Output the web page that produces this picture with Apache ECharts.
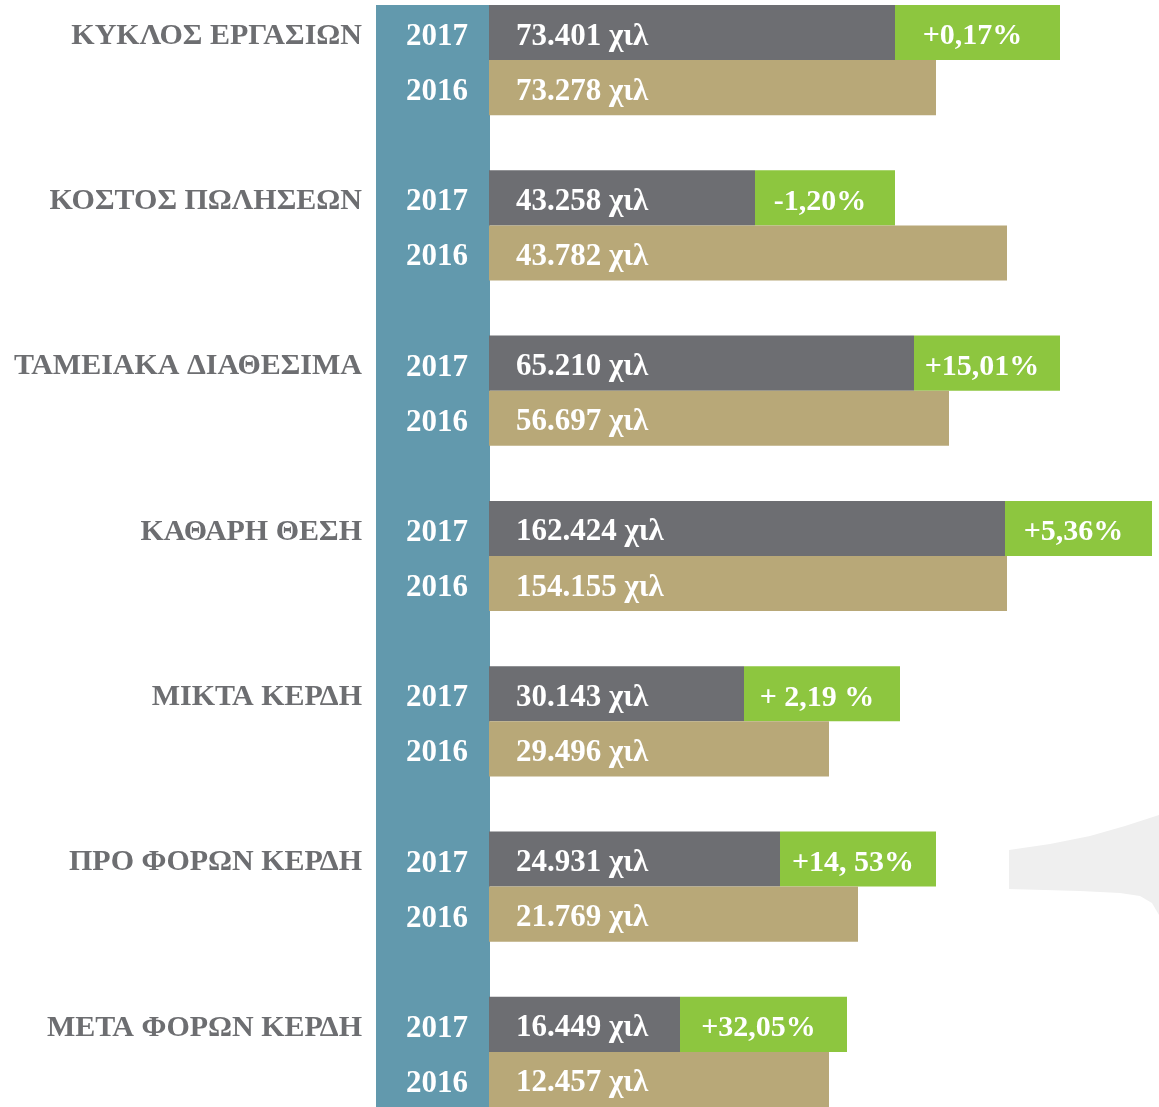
<!DOCTYPE html>
<html>
<head>
<meta charset="utf-8">
<script src="https://cdn.jsdelivr.net/npm/echarts@6/dist/echarts.min.js"></script>
<style>
  html, body { margin: 0; padding: 0; background: #fff; }
  #main { width: 1159px; height: 1107px; }
</style>
</head>
<body>
<div id="main"></div>
<script>
// categories and printed values
const categories = ['ΚΥΚΛΟΣ ΕΡΓΑΣΙΩΝ', 'ΚΟΣΤΟΣ ΠΩΛΗΣΕΩΝ', 'ΤΑΜΕΙΑΚΑ ΔΙΑΘΕΣΙΜΑ', 'ΚΑΘΑΡΗ ΘΕΣΗ', 'ΜΙΚΤΑ ΚΕΡΔΗ', 'ΠΡΟ ΦΟΡΩΝ ΚΕΡΔΗ', 'ΜΕΤΑ ΦΟΡΩΝ ΚΕΡΔΗ']
const years = ['2017', '2016']
const values2017 = ['73.401', '43.258', '65.210', '162.424', '30.143', '24.931', '16.449']
const values2016 = ['73.278', '43.782', '56.697', '154.155', '29.496', '21.769', '12.457']
const changes = ['+0,17%', '-1,20%', '+15,01%', '+5,36%', '+ 2,19 %', '+14, 53%', '+32,05%']
// bar lengths as drawn in the infographic (not proportional to the values)
const len2017 = [406, 266, 425, 516, 255, 291, 191]
const lenChange = [165, 140, 146, 147, 156, 156, 167]
const len2016 = [447, 518, 460, 518, 340, 369, 340]

// each group = 2017 row, 2016 row, empty row
var yearRows = []
var catRows = []
var d2017 = [], dChange = [], d2016 = []
categories.forEach(function (c, i) {
  yearRows.push(years[0], years[1])
  catRows.push(c, '')
  d2017.push(len2017[i], '-')
  dChange.push(lenChange[i], '-')
  d2016.push('-', len2016[i])
  if (i < categories.length - 1) {
    yearRows.push('')
    catRows.push('')
    d2017.push('-')
    dChange.push('-')
    d2016.push('-')
  }
})

// light grey logo fragment at the right edge
var logo = [[1009, 850], [1050, 844], [1090, 836], [1125, 826], [1159, 815], [1159, 915],
  [1152, 903], [1140, 896], [1120, 893], [1080, 891], [1009, 889]]

const serif = 'Liberation Serif'
var chartDom = document.getElementById('main')
var myChart = echarts.init(chartDom)
var option = {
  animation: false,
  backgroundColor: '#ffffff',
  grid: [
    { left: 489, right: 0, top: 5, bottom: 0 },
    { left: 376, width: 114, top: 5, bottom: 0, show: true, backgroundColor: '#6299ad', borderWidth: 0 },
  ],
  graphic: [
    {
      type: 'polygon',
      z: -1,
      shape: { points: logo },
      style: { fill: '#efefef' },
    },
  ],
  xAxis: [
    { type: 'value', gridIndex: 0, min: 0, max: 670, show: false },
    { type: 'value', gridIndex: 1, min: 0, max: 1, show: false },
  ],
  yAxis: [
    {
      type: 'category',
      gridIndex: 0,
      inverse: true,
      data: yearRows,
      axisLine: { show: false },
      axisTick: { show: false },
      splitLine: { show: false },
      axisLabel: {
        interval: 0,
        margin: 21,
        formatter: function (v) {
          return v ? '{y|' + v + '}' : ''
        },
        rich: {
          y: {
            padding: [9, 0, 0, 0],
            color: '#ffffff',
            fontFamily: serif,
            fontWeight: 'bold',
            fontSize: 31,
          },
        },
      },
      z: 5,
    },
    {
      type: 'category',
      gridIndex: 0,
      inverse: true,
      position: 'left',
      offset: 127,
      data: catRows,
      axisLine: { show: false },
      axisTick: { show: false },
      splitLine: { show: false },
      axisLabel: {
        interval: 0,
        margin: 0,
        formatter: function (v) {
          return v ? '{c|' + v + '}' : ''
        },
        rich: {
          c: {
            padding: [7, 0, 0, 0],
            color: '#6d6e71',
            fontFamily: serif,
            fontWeight: 'bold',
            fontSize: 30,
          },
        },
      },
    },
    { type: 'category', gridIndex: 1, data: ['a'], show: false },
  ],
  series: [
    {
      name: '2017',
      type: 'bar',
      stack: 'row',
      barCategoryGap: '0%',
      data: d2017,
      itemStyle: { color: '#6d6e72' },
      label: {
        show: true,
        position: 'insideLeft',
        distance: 27,
        offset: [0, 4],
        color: '#ffffff',
        fontFamily: serif,
        fontWeight: 'bold',
        fontSize: 31,
        formatter: function (p) {
          return values2017[Math.floor(p.dataIndex / 3)] + ' χιλ'
        },
      },
    },
    {
      name: 'change',
      type: 'bar',
      stack: 'row',
      barCategoryGap: '0%',
      data: dChange,
      itemStyle: { color: '#8dc63f' },
      label: {
        show: true,
        position: 'inside',
        offset: [-5, 4],
        color: '#ffffff',
        fontFamily: serif,
        fontWeight: 'bold',
        fontSize: 30,
        formatter: function (p) {
          return changes[Math.floor(p.dataIndex / 3)]
        },
      },
    },
    {
      name: '2016',
      type: 'bar',
      stack: 'row',
      barCategoryGap: '0%',
      data: d2016,
      itemStyle: { color: '#b8a878' },
      label: {
        show: true,
        position: 'insideLeft',
        distance: 27,
        offset: [0, 4],
        color: '#ffffff',
        fontFamily: serif,
        fontWeight: 'bold',
        fontSize: 31,
        formatter: function (p) {
          return values2016[Math.floor(p.dataIndex / 3)] + ' χιλ'
        },
      },
    },
  ],
}
option && myChart.setOption(option)
window.onresize = () => {
  myChart.resize()
}
</script>
</body>
</html>
